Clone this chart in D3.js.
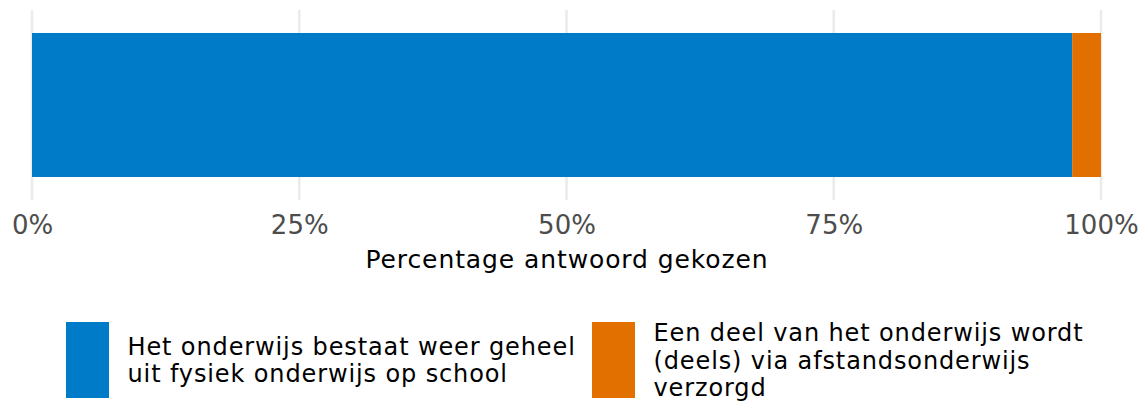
<!DOCTYPE html>
<html>
<head>
<meta charset="utf-8">
<script src="https://cdn.jsdelivr.net/npm/d3@7"></script>
<style>
  html, body { margin: 0; padding: 0; background: #ffffff; }
  svg { display: block; font-family: "DejaVu Sans", Verdana, sans-serif; }
</style>
</head>
<body>
<svg id="chart" width="1146" height="402"></svg>
<script>
// ---- data ----
const categories = [
  "Het onderwijs bestaat weer geheel\nuit fysiek onderwijs op school",
  "Een deel van het onderwijs wordt\n(deels) via afstandsonderwijs\nverzorgd"
];
const values = [97.3, 2.7];
const colors = ["#007BC7", "#E17000"];
const tickValues = [0, 25, 50, 75, 100];
const tickLabels = ["0%", "25%", "50%", "75%", "100%"];
const axisTitle = "Percentage antwoord gekozen";
const barGroup = ["all"];

// ---- layout ----
const svg = d3.select("#chart");
const x = d3.scaleLinear().domain([0, 100]).range([32, 1101]);
const y = d3.scaleBand().domain(barGroup).range([33, 177]).padding(0);

// grid lines
svg.append("g").selectAll("line")
  .data(tickValues)
  .join("line")
  .attr("x1", d => x(d)).attr("x2", d => x(d))
  .attr("y1", 10).attr("y2", 200)
  .attr("stroke", "#EBEBEB")
  .attr("stroke-width", 2.6);

// stacked bar
const cum = d3.cumsum(values);
const segs = values.map((v, i) => ({ start: cum[i] - v, end: cum[i], color: colors[i] }));
svg.append("g").selectAll("rect")
  .data(segs)
  .join("rect")
  .attr("x", d => x(d.start))
  .attr("width", d => x(d.end) - x(d.start))
  .attr("y", y("all"))
  .attr("height", y.bandwidth())
  .attr("fill", d => d.color);

// x axis tick labels
const axis = d3.axisBottom(x)
  .tickValues(tickValues)
  .tickFormat((d, i) => tickLabels[i])
  .tickSize(0)
  .tickPadding(0);
const ax = svg.append("g").attr("transform", "translate(0,210)").call(axis);
ax.select(".domain").remove();
ax.selectAll("text")
  .attr("dy", null)
  .attr("y", 24)
  .attr("fill", "#4D4D4D")
  .style("font-size", "26px")
  .style("font-family", "'DejaVu Sans', Verdana, sans-serif");

// axis title
svg.append("text")
  .attr("x", (x(0) + x(100)) / 2 + 0.5)
  .attr("y", 268)
  .attr("text-anchor", "middle")
  .attr("fill", "#000000")
  .style("font-size", "25px")
  .style("letter-spacing", "0.9px")
  .text(axisTitle);

// legend
const legendX = [66, 592];
const swTop = 322, swH = 76, swW = 43;
const lineH = 27.6;
const leg = svg.append("g").selectAll("g")
  .data(categories)
  .join("g")
  .attr("transform", (d, i) => `translate(${legendX[i]},0)`);
leg.append("rect")
  .attr("x", 0).attr("y", swTop)
  .attr("width", swW).attr("height", swH)
  .attr("fill", (d, i) => colors[i]);
leg.each(function(d) {
  const lines = d.split("\n");
  const center = swTop + swH / 2;
  const firstBaseline = center - (lines.length - 1) * lineH / 2 + 8.6;
  const t = d3.select(this).append("text")
    .attr("fill", "#000000")
    .style("font-size", "24px")
    .style("letter-spacing", "0.88px");
  lines.forEach((ln, k) => {
    t.append("tspan")
      .attr("x", swW + 18.5)
      .attr("y", firstBaseline + k * lineH)
      .text(ln);
  });
});
</script>
</body>
</html>
